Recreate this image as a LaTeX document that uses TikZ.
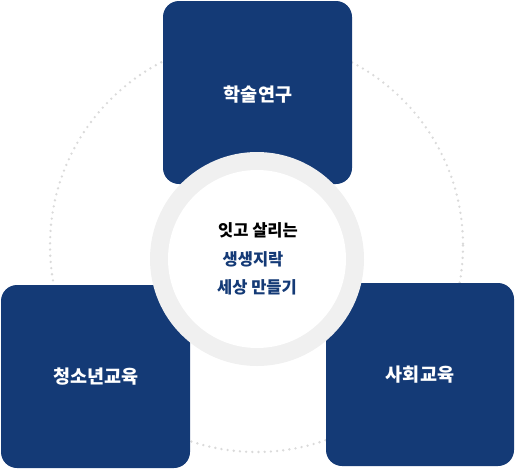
\documentclass[tikz,border=0pt]{standalone}
\usepackage{fontspec}
\newfontfamily\kr{Noto Sans CJK KR}
\definecolor{navy}{RGB}{20,58,118}
\definecolor{ringgray}{RGB}{240,240,240}
\definecolor{dotgray}{RGB}{218,218,218}
\tikzset{
  panel/.style={fill=navy, draw=none, rounded corners=16pt},
  panellabel/.style={text=white, font=\kr\bfseries\fontsize{18.5}{22}\selectfont, inner sep=0pt},
  centerlabel/.style={font=\kr\bfseries\fontsize{16.5}{20}\selectfont, inner sep=0pt},
}
\begin{document}
\begin{tikzpicture}[x=1pt,y=-1pt]
\useasboundingbox (0,0) rectangle (516,469);
% dotted guide circle
\draw[dotgray, line width=2.6pt, line cap=round, dash pattern=on 0pt off 6.2pt] (256.5,245.5) circle[radius=206.5];
% panels
\fill[panel] (163,1) rectangle (352,184);
\fill[panel] (1,285) rectangle (190,468);
\fill[panel] (326,283) rectangle (514,466);
\node[panellabel] (research) at (258,95) {학술연구};
\node[panellabel] (youth) at (96,377) {청소년교육};
\node[panellabel] (social) at (420,375) {사회교육};
% center ring
\fill[ringgray] (257,259) circle[radius=107];
\fill[white] (257,259) circle[radius=89];
\node[centerlabel, text=black] (l1) at (258,230) {잇고 살리는};
\node[centerlabel, text=navy] (l2) at (253,259) {생생지락};
\node[centerlabel, text=navy] (l3) at (257,287) {세상 만들기};
\end{tikzpicture}
\end{document}
